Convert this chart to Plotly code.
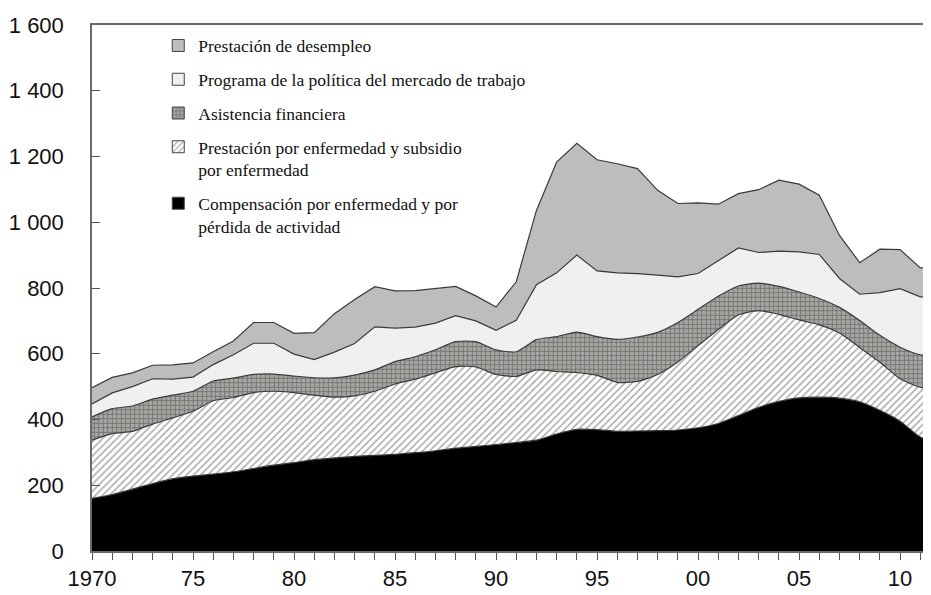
import plotly.graph_objects as go

years = list(range(1970, 2013))

# valores por serie (apilados de abajo hacia arriba)
compensacion = [160, 172, 188, 205, 220, 228, 234, 241, 251, 261,
                269, 278, 283, 288, 291, 294, 299, 305, 313, 318,
                324, 330, 337, 356, 370, 369, 364, 365, 366, 368,
                375, 388, 412, 437, 455, 466, 468, 465, 454, 428,
                395, 347, 328]
prest_enfermedad = [177, 185, 176, 181, 185, 197, 223, 226, 231, 225,
                    213, 196, 185, 184, 195, 214, 224, 237, 248, 242,
                    213, 201, 214, 190, 173, 165, 149, 151, 171, 207,
                    250, 286, 306, 294, 265, 237, 220, 198, 165, 146,
                    129, 151, 162]
asistencia = [71, 76, 77, 76, 69, 61, 60, 59, 55, 52,
              50, 53, 59, 63, 65, 68, 68, 70, 76, 77,
              75, 75, 92, 106, 123, 118, 131, 135, 128, 120,
              110, 101, 88, 84, 85, 85, 80, 78, 82, 82,
              96, 99, 105]
programa = [39, 48, 59, 62, 49, 43, 50, 71, 95, 94,
            67, 55, 78, 96, 131, 102, 90, 81, 79, 63,
            59, 96, 167, 194, 234, 200, 202, 193, 174, 139,
            109, 109, 116, 93, 107, 122, 134, 88, 80, 130,
            178, 176, 178]
desempleo = [50, 47, 42, 41, 43, 43, 39, 42, 63, 63,
             63, 82, 117, 134, 122, 113, 111, 106, 89, 76,
             71, 117, 226, 337, 340, 338, 332, 319, 258, 223,
             215, 171, 165, 191, 216, 206, 180, 131, 96, 132,
             119, 88, 88]

x_tickvals = [1970, 1975, 1980, 1985, 1990, 1995, 2000, 2005, 2010]
x_ticktext = ["1970", "75", "80", "85", "90", "95", "00", "05", "10"]
y_tickvals = [0, 200, 400, 600, 800, 1000, 1200, 1400, 1600]
y_ticktext = ["0", "200", "400", "600", "800", "1 000", "1 200", "1 400", "1 600"]

LINE = "#3a3a3a"
series = [
    dict(name="Compensación por enfermedad y por<br>pérdida de actividad",
         y=compensacion, fill="#000000", pattern=None, shape="spline"),
    dict(name="Prestación por enfermedad y subsidio<br>por enfermedad",
         y=prest_enfermedad, fill="#ffffff",
         pattern=dict(shape="/", fgcolor="#555555", bgcolor="#ffffff", size=5, solidity=0.3),
         shape="spline"),
    dict(name="Asistencia financiera", y=asistencia, fill="#a6a6a6",
         pattern=dict(shape="+", fgcolor="#3f3b28", bgcolor="#a6a6a6", size=4.5, solidity=0.35),
         shape="spline"),
    dict(name="Programa de la política del mercado de trabajo", y=programa,
         fill="#f0f0f0", pattern=None, shape="linear"),
    dict(name="Prestación de desempleo", y=desempleo, fill="#bdbdbd",
         pattern=None, shape="linear"),
]

fig = go.Figure()
for i, s in enumerate(series):
    kw = dict(fillpattern=s["pattern"]) if s["pattern"] else {}
    fig.add_trace(go.Scatter(
        x=years, y=s["y"], stackgroup="one", mode="lines",
        line=dict(color=LINE, width=1.2, shape=s["shape"], smoothing=0.6),
        fillcolor=s["fill"], showlegend=False, hoverinfo="skip", **kw,
    ))
    # entrada de leyenda con icono cuadrado
    fig.add_trace(go.Bar(
        x=[None], y=[None], name=s["name"], legendgroup=f"g{i}",
        legendrank=100 - i,
        marker=dict(color=s["fill"], line=dict(color="#444444", width=1),
                    pattern=s["pattern"] if s["pattern"] else None),
    ))

# la página añade 8 px de margen: se compensa aquí
fig.update_layout(
    width=923, height=587,
    margin=dict(l=84, r=0, t=17, b=44),
    plot_bgcolor="white", paper_bgcolor="white",
    showlegend=True,
    legend=dict(
        x=0.079, y=0.995, xanchor="left", yanchor="top",
        traceorder="grouped", tracegroupgap=8, valign="top",
        font=dict(family="Liberation Serif, serif", size=17.5, color="#111111"),
        bgcolor="rgba(0,0,0,0)",
    ),
)
fig.update_xaxes(
    range=[1970, 2011.53], tickvals=x_tickvals, ticktext=x_ticktext,
    ticks="outside", ticklen=7, tickcolor="#555555",
    minor=dict(dtick=1, ticks="outside", ticklen=7, tickcolor="#555555"),
    showgrid=False, zeroline=False, showline=True, linecolor="#6a6a6a", linewidth=1.5,
    mirror=True,
    tickfont=dict(family="Liberation Sans, Arial, sans-serif", size=22, color="#111111"),
)
fig.update_yaxes(
    range=[0, 1600], tickvals=y_tickvals, ticktext=y_ticktext,
    ticks="inside", ticklen=8, tickcolor="#555555", ticklabelstandoff=22,
    showgrid=False, zeroline=False, showline=True, linecolor="#6a6a6a", linewidth=1.5,
    tickfont=dict(family="Liberation Sans, Arial, sans-serif", size=22, color="#111111"),
)

fig.write_html("out.html")
